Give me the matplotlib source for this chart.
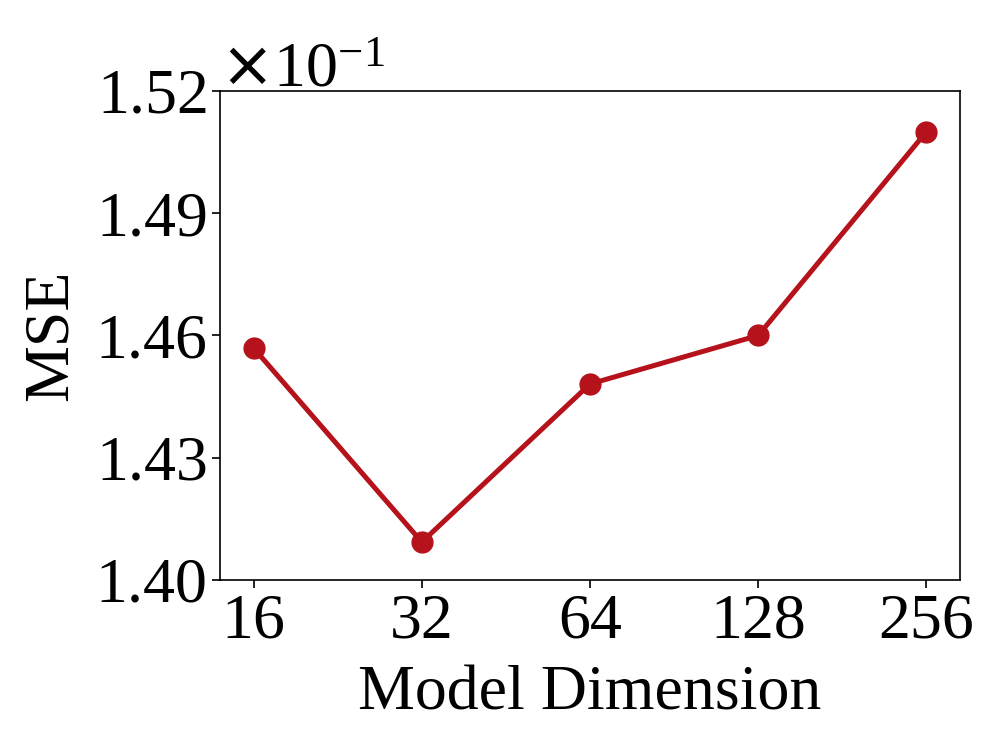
import matplotlib
matplotlib.use("Agg")
import matplotlib.pyplot as plt
from matplotlib.ticker import ScalarFormatter, FixedLocator

categories = ["16", "32", "64", "128", "256"]
mse = [0.14569, 0.14093, 0.14481, 0.14600, 0.15100]
yticks = [0.140, 0.143, 0.146, 0.149, 0.152]

plt.rcParams['font.family'] = ['Liberation Serif', 'DejaVu Serif']
plt.rcParams['font.size'] = 46

fig = plt.figure(figsize=(9.96, 7.47), dpi=100)
ax = fig.add_axes([0.2209, 0.2236, 0.7430, 0.6546])
x = list(range(len(categories)))
ax.plot(x, mse, color="#B5121B", linewidth=3.6, marker="o", markersize=15)
ax.set_xticks(x)
ax.set_xticklabels(categories)
ax.set_ylim(0.140, 0.152)
ax.yaxis.set_major_locator(FixedLocator(yticks))
fmt = ScalarFormatter(useMathText=True)
fmt.set_powerlimits((-1, 1))
ax.yaxis.set_major_formatter(fmt)
ax.set_xlabel("Model Dimension", labelpad=10)
ax.set_ylabel("MSE", labelpad=10)
for s in ax.spines.values():
    s.set_linewidth(1.2)
ax.tick_params(width=1.2, length=6)
fig.canvas.draw()
ax.yaxis.get_offset_text().set_y(1.01)
fig.savefig("out.png", dpi=100)
